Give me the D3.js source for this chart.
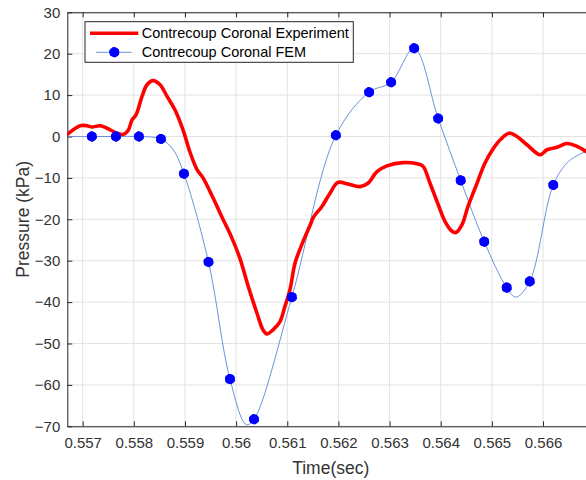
<!DOCTYPE html>
<html>
<head>
<meta charset="utf-8">
<script src="https://cdn.jsdelivr.net/npm/d3@7"></script>
<style>
  html, body { margin: 0; padding: 0; background: #fff; }
  svg { display: block; font-family: "Liberation Sans", Arial, Helvetica, sans-serif; }
</style>
</head>
<body>
<svg id="chart" width="586" height="480"></svg>
<script>
// Experimental contrecoup pressure trace (time in s, pressure in kPa)
const expTime = [0.55670, 0.55695, 0.557085, 0.557183, 0.557339, 0.557476, 0.557672, 0.557789,
  0.557887, 0.557965, 0.558043, 0.558161, 0.558258, 0.558376, 0.558513, 0.558650, 0.558806,
  0.558962, 0.559099, 0.559236, 0.559353, 0.559548, 0.559724, 0.559900, 0.560076, 0.560232,
  0.560408, 0.560525, 0.560603, 0.560720, 0.560858, 0.560955, 0.561053, 0.561151, 0.561288,
  0.561444, 0.561522, 0.561678, 0.561835, 0.561991, 0.562167, 0.562421, 0.562577, 0.562753,
  0.562949, 0.563262, 0.563536, 0.563653, 0.563790, 0.563927, 0.564083, 0.564220, 0.564299,
  0.564416, 0.564533, 0.564709, 0.564865, 0.565022, 0.565178, 0.565335, 0.565491, 0.565686,
  0.565941, 0.566077, 0.566273, 0.566469, 0.566664, 0.566840];
const expPressure = [0.5, 2.6, 2.6, 2.3, 2.6, 2.0, 0.8, 0.5,
  1.4, 4.0, 5.2, 9.7, 12.5, 13.5, 12.5, 9.7, 6.4,
  1.6, -3.8, -8.0, -10.0, -14.8, -19.5, -24.0, -29.5, -36.0,
  -42.7, -46.7, -47.7, -46.7, -44.7, -41.0, -37.0, -30.6, -26.0,
  -21.5, -19.3, -16.9, -13.7, -11.1, -11.4, -12.1, -11.3, -8.5,
  -7.1, -6.3, -6.6, -7.2, -11.3, -15.7, -20.5, -22.9, -23.2,
  -21.3, -16.9, -11.3, -6.4, -3.0, -0.6, 0.8, 0.0, -2.0,
  -4.4, -3.2, -2.6, -1.7, -2.4, -3.6];

// FEM prediction: curve samples, and which of them carry a marker
const femTime = [0.55670, 0.55718, 0.55765, 0.55810, 0.55853, 0.55877, 0.55898, 0.55946,
  0.55988, 0.56020, 0.56035, 0.56109, 0.56195, 0.56260, 0.56303, 0.56348, 0.56395,
  0.56439, 0.56485, 0.56529, 0.56547, 0.56574, 0.56620, 0.56650, 0.56684];
const femPressure = [0.0, 0.0, 0.0, 0.0, -0.6, -3.2, -9.0, -30.3,
  -58.6, -69.6, -68.3, -38.8, 0.3, 10.7, 13.1, 21.3, 4.35,
  -10.6, -25.4, -36.5, -38.8, -35.0, -11.7, -6.0, -3.6];
const femMarked = [false, true, true, true, true, false, true, true,
  true, false, true, true, true, true, true, true, true,
  true, true, true, false, true, true, false, false];

const xTicks = [0.557, 0.558, 0.559, 0.560, 0.561, 0.562, 0.563, 0.564, 0.565, 0.566];
const xTickLabels = ["0.557", "0.558", "0.559", "0.56", "0.561", "0.562", "0.563", "0.564", "0.565", "0.566"];
const yTicks = [-70, -60, -50, -40, -30, -20, -10, 0, 10, 20, 30];

const seriesNames = ["Contrecoup Coronal Experiment", "Contrecoup Coronal FEM"];

const svg = d3.select("#chart");
const plotLeft = 67.3, plotRight = 594.2, plotTop = 12.3, plotBottom = 426.3;

const x = d3.scaleLinear().domain([0.5567, 0.567]).range([plotLeft, plotRight]);
const y = d3.scaleLinear().domain([-70, 30]).range([plotBottom, plotTop]);

const axisColor = "#262626";
const labelColor = "#333333";

// grid
const grid = svg.append("g");
grid.selectAll("line.gx").data(xTicks).join("line")
  .attr("x1", d => x(d)).attr("x2", d => x(d))
  .attr("y1", plotTop).attr("y2", plotBottom)
  .attr("stroke", "#e3e3e3").attr("stroke-width", 1);
grid.selectAll("line.gy").data(yTicks).join("line")
  .attr("x1", plotLeft).attr("x2", plotRight)
  .attr("y1", d => y(d)).attr("y2", d => y(d))
  .attr("stroke", "#e3e3e3").attr("stroke-width", 1);

// axes (ticks pointing inward)
const xAxis = d3.axisBottom(x).tickValues(xTicks)
  .tickFormat((d, i) => xTickLabels[i]).tickSizeInner(-5).tickSizeOuter(0).tickPadding(11);
const gx = svg.append("g").attr("transform", `translate(0,${plotBottom})`).call(xAxis);
const xTopAxis = d3.axisTop(x).tickValues(xTicks).tickFormat("").tickSizeInner(-5).tickSizeOuter(0);
const gxt = svg.append("g").attr("transform", `translate(0,${plotTop})`).call(xTopAxis);
const yAxis = d3.axisLeft(y).tickValues(yTicks).tickSizeInner(-5).tickSizeOuter(0).tickPadding(7);
const gy = svg.append("g").attr("transform", `translate(${plotLeft},0)`).call(yAxis);

[gx, gxt, gy].forEach(g => {
  g.select(".domain").attr("stroke", axisColor).attr("stroke-width", 1);
  g.selectAll(".tick line").attr("stroke", axisColor).attr("stroke-width", 1);
  g.selectAll(".tick text").attr("fill", labelColor)
    .style("font-size", "15px").style("font-family", "'Liberation Sans', Arial, sans-serif");
});

// axis labels
svg.append("text").attr("x", (plotLeft + plotRight) / 2).attr("y", 473.5)
  .attr("text-anchor", "middle").attr("fill", labelColor)
  .style("font-size", "17.5px").text("Time(sec)");
svg.append("text")
  .attr("transform", `translate(28.5,${(plotTop + plotBottom) / 2}) rotate(-90)`)
  .attr("text-anchor", "middle").attr("fill", labelColor)
  .style("font-size", "17.5px").text("Pressure (kPa)");

// plot clip
svg.append("clipPath").attr("id", "plotClip").append("rect")
  .attr("x", plotLeft).attr("y", plotTop - 8)
  .attr("width", plotRight - plotLeft).attr("height", plotBottom - plotTop + 16);
const plot = svg.append("g").attr("clip-path", "url(#plotClip)");

const femPts = femTime.map((t, i) => ({ t, v: femPressure[i], m: femMarked[i] }));
const expPts = expTime.map((t, i) => ({ t, v: expPressure[i] }));

// FEM curve
plot.append("path").datum(femPts)
  .attr("fill", "none").attr("stroke", "#5b86d6").attr("stroke-width", 0.9)
  .attr("d", d3.line().x(d => x(d.t)).y(d => y(d.v)).curve(d3.curveCatmullRom.alpha(0.5)));

// Experiment curve
plot.append("path").datum(expPts)
  .attr("fill", "none").attr("stroke", "#ff0000").attr("stroke-width", 3.6)
  .attr("stroke-linejoin", "round").attr("stroke-linecap", "round")
  .attr("d", d3.line().x(d => x(d.t)).y(d => y(d.v)).curve(d3.curveCatmullRom.alpha(0.5)));

// burst marker: filled disc with short rounded spokes
function drawMarker(g, cx, cy) {
  const m = g.append("g").attr("transform", `translate(${cx},${cy})`);
  m.append("circle").attr("r", 5).attr("fill", "#0000ff");
  [0, 45].forEach(a => {
    m.append("path").attr("d", d3.symbol(d3.symbolAsterisk, 38)())
      .attr("transform", `rotate(${a})`)
      .attr("stroke", "#0000ff").attr("stroke-width", 2.7).attr("fill", "none")
      .attr("stroke-linecap", "round");
  });
}
femPts.filter(d => d.m).forEach(d => drawMarker(plot, x(d.t), y(d.v)));

// legend
const lg = svg.append("g");
lg.append("rect").attr("x", 85).attr("y", 21.7).attr("width", 268.3).attr("height", 40.6)
  .attr("fill", "#fff").attr("stroke", axisColor).attr("stroke-width", 1);
lg.append("line").attr("x1", 90).attr("x2", 138.3).attr("y1", 33.3).attr("y2", 33.3)
  .attr("stroke", "#ff0000").attr("stroke-width", 3.6);
lg.append("line").attr("x1", 96).attr("x2", 131.7).attr("y1", 52.3).attr("y2", 52.3)
  .attr("stroke", "#5b86d6").attr("stroke-width", 0.9);
drawMarker(lg, 114.3, 52.3);
lg.selectAll("text.leg").data(seriesNames).join("text")
  .attr("x", 141.7).attr("y", (d, i) => 33.3 + i * 19 + 5)
  .attr("fill", "#000").style("font-size", "14.5px").text(d => d);
</script>
</body>
</html>
